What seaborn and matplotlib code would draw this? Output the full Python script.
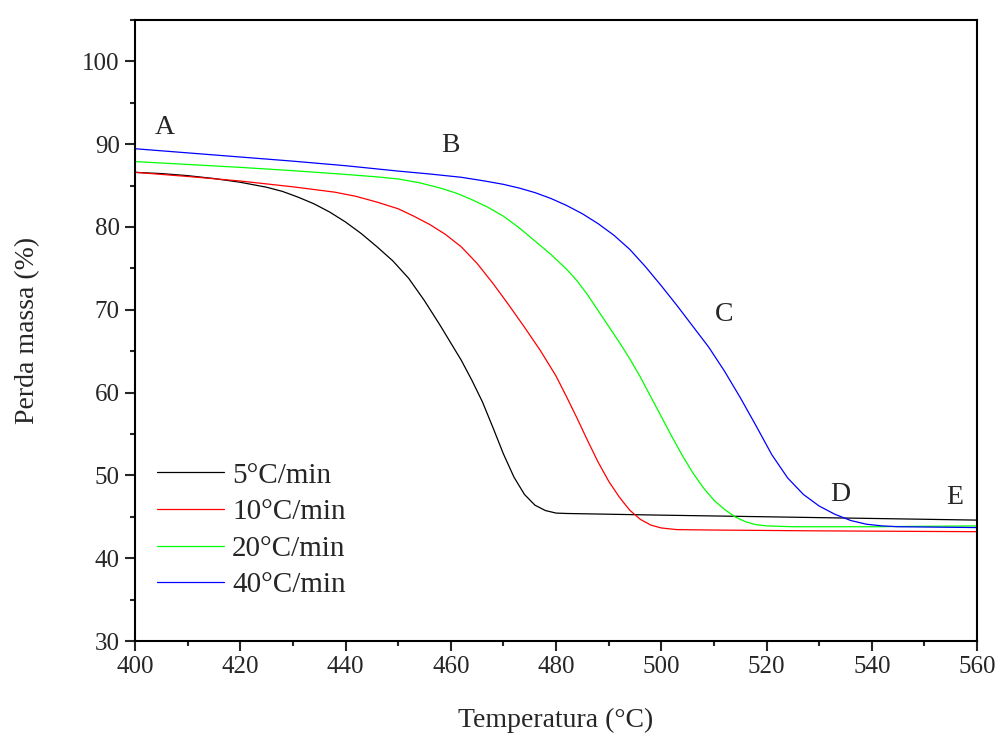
import numpy as np
import pandas as pd
import matplotlib
matplotlib.use("Agg")
import matplotlib.pyplot as plt
from matplotlib.ticker import MultipleLocator
import seaborn as sns

# Thermogravimetric curves at four heating rates
rates = ["5°C/min", "10°C/min", "20°C/min", "40°C/min"]
colors = ["#000000", "#ff0000", "#00ff00", "#0000ff"]

temp_5 = [400, 405, 410, 415, 420, 425, 428, 431, 434, 437, 440, 443, 446, 449,
          452, 455, 458, 460, 462, 464, 466, 468, 470, 472, 474, 476, 478, 480,
          482, 500, 520, 540, 560]
mass_5 = [86.6, 86.45, 86.2, 85.85, 85.4, 84.8, 84.3, 83.6, 82.8, 81.8, 80.6,
          79.2, 77.6, 75.9, 73.8, 71.1, 68.1, 66.0, 63.9, 61.5, 58.9, 55.8, 52.6,
          49.8, 47.7, 46.4, 45.75, 45.45, 45.4, 45.2, 45.0, 44.8, 44.6]

temp_10 = [400, 410, 420, 430, 438, 442, 446, 450, 453, 456, 459, 462, 465, 468,
           471, 474, 477, 480, 482, 484, 486, 488, 490, 492, 494, 496, 498, 500,
           503, 510, 530, 560]
mass_10 = [86.6, 86.1, 85.55, 84.85, 84.2, 83.7, 83.0, 82.2, 81.3, 80.3, 79.1,
           77.6, 75.6, 73.2, 70.6, 67.9, 65.1, 62.0, 59.5, 56.9, 54.2, 51.6, 49.3,
           47.4, 45.8, 44.7, 44.0, 43.65, 43.45, 43.4, 43.3, 43.2]

temp_20 = [400, 410, 420, 430, 440, 446, 450, 454, 458, 461, 464, 467, 470, 473,
           476, 479, 482, 484, 486, 488, 490, 492, 494, 496, 498, 500, 502, 504,
           506, 508, 510, 512, 514, 516, 518, 520, 525, 540, 560]
mass_20 = [87.9, 87.55, 87.2, 86.8, 86.35, 86.05, 85.8, 85.35, 84.7, 84.1, 83.3,
           82.4, 81.3, 79.9, 78.3, 76.7, 74.9, 73.5, 71.8, 69.9, 68.0, 66.1, 64.1,
           61.9, 59.5, 57.1, 54.7, 52.4, 50.3, 48.5, 47.0, 45.9, 45.0, 44.4, 44.05,
           43.9, 43.8, 43.8, 43.9]

temp_40 = [400, 410, 420, 430, 440, 450, 456, 462, 466, 470, 473, 476, 479, 482,
           485, 488, 491, 494, 497, 500, 503, 506, 509, 512, 515, 518, 521, 524,
           527, 530, 533, 536, 539, 542, 545, 560]
mass_40 = [89.45, 88.95, 88.45, 87.95, 87.4, 86.75, 86.4, 86.0, 85.6, 85.15,
           84.7, 84.15, 83.45, 82.6, 81.6, 80.4, 79.0, 77.3, 75.2, 72.9, 70.5,
           68.0, 65.5, 62.6, 59.4, 56.0, 52.5, 49.7, 47.7, 46.3, 45.3, 44.55,
           44.1, 43.9, 43.8, 43.7]

# Stage labels along the curves
stage_text = ["A", "B", "C", "D", "E"]
stage_x = [405.7, 459.9, 511.9, 534.0, 555.8]
stage_y = [92.0, 89.8, 69.4, 47.7, 47.3]

frames = []
for rate, t, m in zip(rates, [temp_5, temp_10, temp_20, temp_40],
                      [mass_5, mass_10, mass_20, mass_40]):
    frames.append(pd.DataFrame({"Temperatura": t, "Massa": m, "Taxa": rate}))
df = pd.concat(frames, ignore_index=True)

sns.set_style("ticks")
plt.rcParams["font.family"] = ["Liberation Serif", "DejaVu Serif"]

fig = plt.figure(figsize=(9.97, 7.34), dpi=100)
ax = fig.add_axes([0.1354, 0.1267, 0.8446, 0.8461])

sns.lineplot(data=df, x="Temperatura", y="Massa", hue="Taxa", hue_order=rates,
             palette=colors, linewidth=0.9, sort=False, estimator=None, ax=ax)

ax.set_xlim(400, 560)
ax.set_ylim(30, 105)
ax.xaxis.set_major_locator(MultipleLocator(20))
ax.xaxis.set_minor_locator(MultipleLocator(10))
ax.set_yticks(np.arange(30, 101, 10))
ax.yaxis.set_minor_locator(MultipleLocator(5))
ax.tick_params(which="major", direction="out", length=7, width=1.5,
               labelsize=18, pad=4, top=False, right=False)
ax.tick_params(which="minor", direction="out", length=3.5, width=1.5,
               top=False, right=False)
for s in ax.spines.values():
    s.set_linewidth(1.5)
    s.set_color("black")

ax.set_xlabel("Temperatura (°C)", fontsize=20, labelpad=21.5)
ax.set_ylabel("Perda massa (%)", fontsize=20, labelpad=30)

for txt, x, y in zip(stage_text, stage_x, stage_y):
    ax.text(x, y, txt, fontsize=20, ha="center", va="center")

leg = ax.legend(loc="upper left", bbox_to_anchor=(0.026, 0.288), frameon=False,
                fontsize=21, handlelength=2.3, handletextpad=0.28,
                labelspacing=0.35, borderpad=0, borderaxespad=0)
for line in leg.get_lines():
    line.set_linewidth(0.9)

fig.savefig("out.png", dpi=100)
